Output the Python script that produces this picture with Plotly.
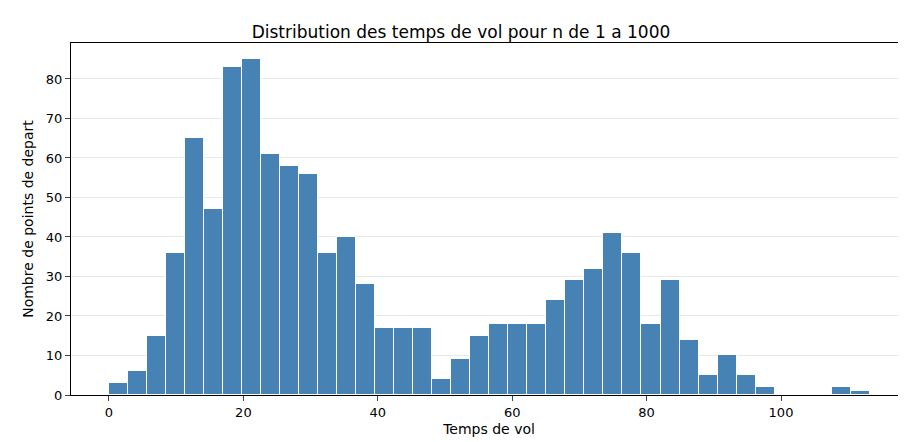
import numpy as np
import plotly.graph_objects as go

# histogram counts (40 bins)
counts = [3, 6, 15, 36, 65, 47, 83, 85, 61, 58, 56, 36, 40, 28, 17, 17, 17, 4, 9, 15,
          18, 18, 18, 24, 29, 32, 41, 36, 18, 29, 14, 5, 10, 5, 2, 0, 0, 0, 2, 1]
bin_start = 0.0
bin_width = 2.83

edges = bin_start + bin_width * np.arange(len(counts) + 1)
centers = (edges[:-1] + edges[1:]) / 2

fig = go.Figure(go.Bar(x=centers, y=counts, width=bin_width,
                       marker=dict(color='#4682b4', line=dict(color='white', width=1))))

fig.update_layout(
    width=906, height=442,
    plot_bgcolor='white', paper_bgcolor='white',
    margin=dict(l=63, r=7, t=35, b=55, autoexpand=False),
    font=dict(family='DejaVu Sans', size=13, color='black'),
    title=dict(text='Distribution des temps de vol pour n de 1 a 1000', x=0.5, xanchor='center',
               y=0.96, font=dict(size=17)),
    showlegend=False, bargap=0,
)
fig.update_xaxes(range=[-5.65, 118.75], tickvals=[0, 20, 40, 60, 80, 100], ticks='outside',
                 showgrid=False, showline=True, linecolor='black', mirror=True, zeroline=False,
                 automargin=False, title=dict(text='Temps de vol', standoff=5, font=dict(size=14)))
fig.update_yaxes(range=[0, 89.1], tickvals=list(range(0, 81, 10)), ticks='outside',
                 showgrid=True, gridcolor='#e8e8e8', showline=True, linecolor='black', mirror=True,
                 zeroline=False, automargin=False,
                 title=dict(text='Nombre de points de depart', standoff=8, font=dict(size=14)))

fig.write_html('out.html')
